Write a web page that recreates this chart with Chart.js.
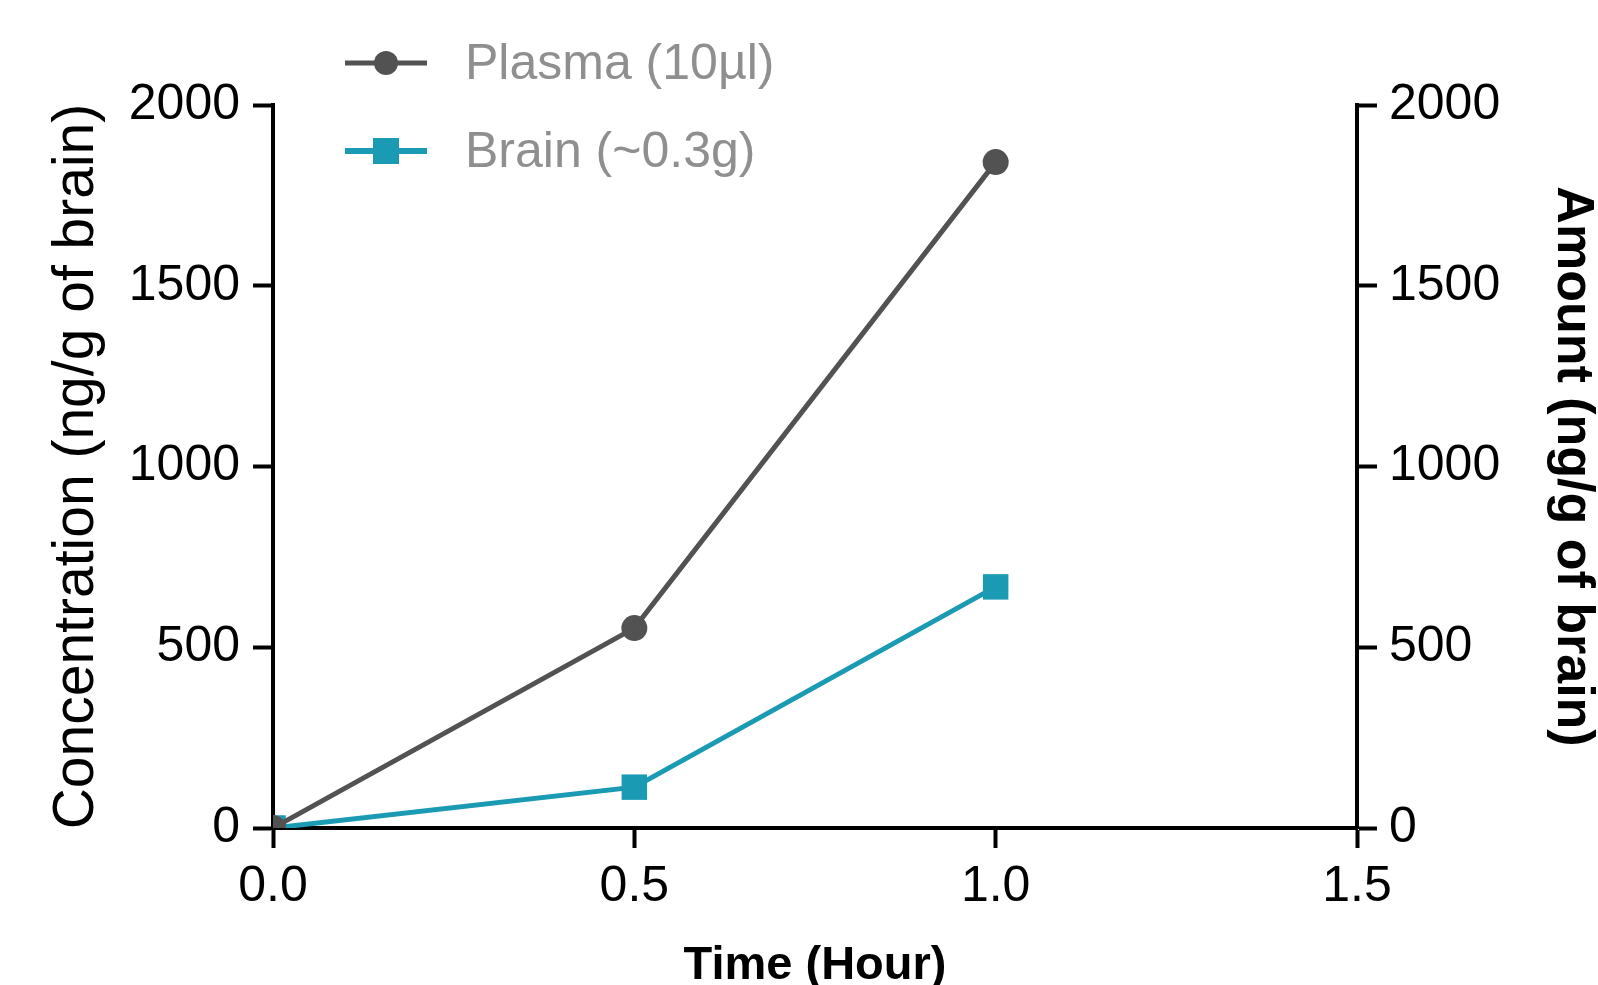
<!DOCTYPE html>
<html>
<head>
<meta charset="utf-8">
<script src="https://cdn.jsdelivr.net/npm/chart.js@4/dist/chart.umd.min.js"></script>
<style>
  html, body { margin: 0; padding: 0; background: #ffffff; }
  canvas { display: block; }
</style>
</head>
<body>
<canvas id="c" width="1598" height="985"></canvas>
<script>
// ---- data ----
const timeHours = [0, 0.5, 1.0];
const plasmaValues = [0, 553, 1842];
const brainValues = [0, 113, 667];
const xTicks = [0, 0.5, 1.0, 1.5];
const yTicks = [0, 500, 1000, 1500, 2000];
const seriesLabels = ['Plasma (10\u00b5l)', 'Brain (~0.3g)'];
const xTitle = 'Time (Hour)';
const yLeftTitle = 'Concentration (ng/g of brain)';
const yRightTitle = 'Amount (ng/g of brain)';

const plasmaColor = '#525252';
const brainColor = '#1a9ab3';
const FONT = '"Liberation Sans", Arial, sans-serif';

const toPts = (xs, ys) => xs.map((x, i) => ({ x: x, y: ys[i] }));

const legendPlugin = {
  id: 'customLegend',
  afterDraw(chart) {
    const ctx = chart.ctx;
    const items = [
      { label: seriesLabels[0], color: plasmaColor, y: 63, style: 'circle', lw: 5 },
      { label: seriesLabels[1], color: brainColor, y: 151, style: 'rect', lw: 6 }
    ];
    ctx.save();
    items.forEach(it => {
      ctx.strokeStyle = it.color;
      ctx.lineWidth = it.lw;
      ctx.beginPath();
      ctx.moveTo(345, it.y);
      ctx.lineTo(427, it.y);
      ctx.stroke();
      ctx.fillStyle = it.color;
      if (it.style === 'circle') {
        ctx.beginPath();
        ctx.arc(386, it.y, 12, 0, Math.PI * 2);
        ctx.fill();
      } else {
        ctx.fillRect(386 - 13, it.y - 13, 26, 26);
      }
      ctx.fillStyle = '#8f8f8f';
      ctx.font = '50px ' + FONT;
      ctx.textAlign = 'left';
      ctx.textBaseline = 'middle';
      ctx.fillText(it.label, 465, it.y + 2);
    });
    ctx.restore();
  }
};

const tickFont = { family: FONT, size: 50 };

new Chart(document.getElementById('c'), {
  type: 'line',
  data: {
    datasets: [
      {
        label: seriesLabels[0],
        data: toPts(timeHours, plasmaValues),
        borderColor: plasmaColor,
        backgroundColor: plasmaColor,
        borderWidth: 5,
        pointStyle: 'circle',
        pointRadius: 13,
        pointBorderWidth: 0,
        tension: 0,
        yAxisID: 'y',
        order: 0
      },
      {
        label: seriesLabels[1],
        data: toPts(timeHours, brainValues),
        borderColor: brainColor,
        backgroundColor: brainColor,
        borderWidth: 5,
        pointStyle: 'rect',
        pointRadius: 18,
        pointBorderWidth: 0,
        tension: 0,
        yAxisID: 'y2',
        order: 1
      }
    ]
  },
  options: {
    responsive: false,
    animation: false,
    devicePixelRatio: 1,
    layout: { padding: { top: 105, left: 0, right: 0, bottom: 0 } },
    plugins: { legend: { display: false }, tooltip: { enabled: false } },
    scales: {
      x: {
        type: 'linear',
        position: 'bottom',
        min: 0, max: 1.5,
        afterBuildTicks: s => { s.ticks = xTicks.map(v => ({ value: v })); },
        afterFit: s => { s.height = 157; },
        ticks: {
          font: tickFont, color: '#000', padding: 9,
          callback: v => Number(v).toFixed(1),
          maxRotation: 0, autoSkip: false
        },
        grid: { drawOnChartArea: false, drawTicks: true, tickLength: 20, tickColor: '#000', tickWidth: 4 },
        border: { display: true, color: '#000', width: 4 },
        title: {
          display: true, text: xTitle, color: '#000',
          font: { family: FONT, size: 47, weight: 'bold', lineHeight: 0.8 },
          padding: { top: 0, bottom: 0 }
        }
      },
      y: {
        type: 'linear',
        position: 'left',
        min: 0, max: 2000,
        afterBuildTicks: s => { s.ticks = yTicks.map(v => ({ value: v })); },
        afterFit: s => { s.width = 273; },
        ticks: { font: tickFont, color: '#000', padding: 13, callback: v => String(v) },
        grid: { drawOnChartArea: false, drawTicks: true, tickLength: 20, tickColor: '#000', tickWidth: 4 },
        border: { display: true, color: '#000', width: 4 },
        title: {
          display: true, text: yLeftTitle, color: '#000',
          font: { family: FONT, size: 57, lineHeight: 1 },
          padding: { top: 49, bottom: 0 }
        }
      },
      y2: {
        type: 'linear',
        position: 'right',
        min: 0, max: 2000,
        afterBuildTicks: s => { s.ticks = yTicks.map(v => ({ value: v })); },
        afterFit: s => { s.width = 241; },
        ticks: { font: tickFont, color: '#000', padding: 12, callback: v => String(v) },
        grid: { drawOnChartArea: false, drawTicks: true, tickLength: 20, tickColor: '#000', tickWidth: 4 },
        border: { display: true, color: '#000', width: 4 },
        title: {
          display: true, text: yRightTitle, color: '#000',
          font: { family: FONT, size: 52, weight: 'bold', lineHeight: 1 },
          padding: { top: 0, bottom: 0 }
        }
      }
    }
  },
  plugins: [legendPlugin]
});
</script>
</body>
</html>
